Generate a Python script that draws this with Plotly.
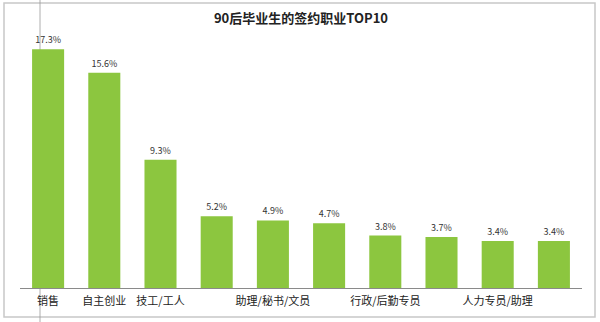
import plotly.graph_objects as go

categories = ["销售", "自主创业", "技工/工人", "", "助理/秘书/文员", "", "行政/后勤专员", "", "人力专员/助理", ""]
values = [17.3, 15.6, 9.3, 5.2, 4.9, 4.7, 3.8, 3.7, 3.4, 3.4]
positions = list(range(len(values)))
title_text = "90后毕业生的签约职业TOP10"

W, H = 600, 322
L, R, T, B = 20, 18, 12, 34
pw, ph = W - L - R, H - T - B

def px(x):
    return (x - L) / pw

def py(y):
    return (H - B - y) / ph

fig = go.Figure(go.Bar(
    x=positions, y=values,
    marker=dict(color="#8cc63f", line=dict(width=0)),
    text=[f"{v:.1f}%" for v in values],
    textposition="outside",
    textfont=dict(size=9, color="#333333", family="Noto Sans CJK SC"),
    cliponaxis=False,
    width=0.57,
))

fig.update_layout(
    width=W, height=H,
    margin=dict(l=L, r=R, t=T, b=B),
    paper_bgcolor="white", plot_bgcolor="white",
    showlegend=False,
    title=dict(text=f"<b>{title_text}</b>", x=0.5, xref="paper", xanchor="center",
               y=1 - 18 / H, yref="container", yanchor="middle",
               font=dict(size=13, color="#222222", family="Noto Sans CJK SC")),
    xaxis=dict(range=[-0.5, 9.5], tickvals=positions, ticktext=categories,
               showline=True, linecolor="#8a8a8a", linewidth=1, ticks="",
               showgrid=False, zeroline=False, ticklabelstandoff=3,
               tickfont=dict(size=11, color="#222222", family="Noto Sans CJK SC")),
    yaxis=dict(range=[0, 20], visible=False, showgrid=False, zeroline=False),
    shapes=[
        dict(type="rect", xref="paper", yref="paper",
             x0=px(4), x1=px(595), y0=py(317), y1=py(3),
             line=dict(color="#c8c8c8", width=1.5), fillcolor="rgba(0,0,0,0)", layer="below"),
        dict(type="line", xref="paper", yref="paper",
             x0=px(40), x1=px(40), y0=py(322), y1=py(0),
             line=dict(color="#9a9a9a", width=0.8), layer="below"),
    ],
)

fig.write_html("out.html")
